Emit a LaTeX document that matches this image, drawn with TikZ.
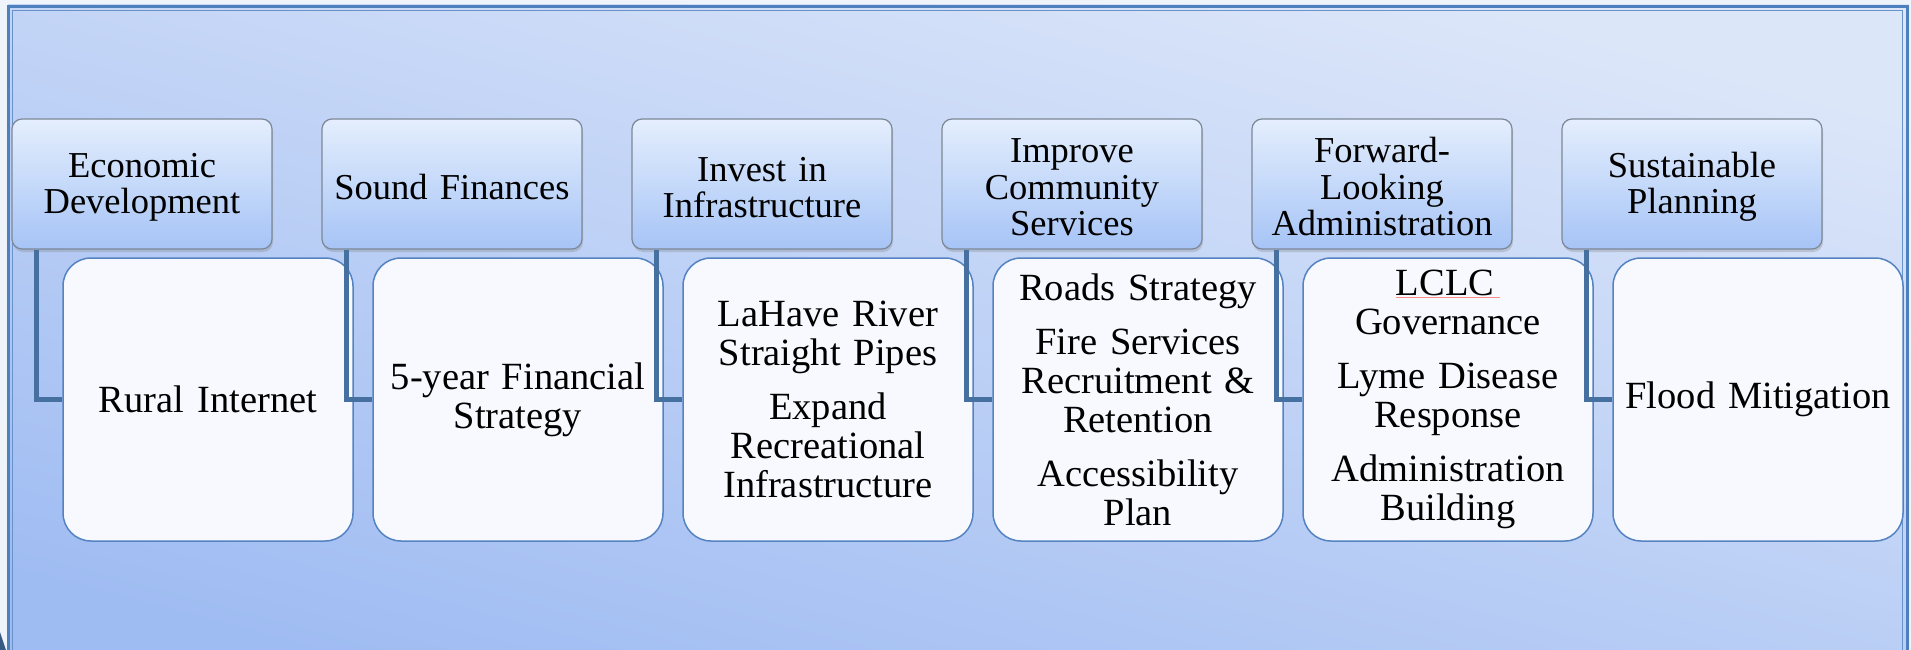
\documentclass[tikz,border=0pt]{standalone}
\usepackage{fontspec}
\setmainfont{Liberation Serif}
\usetikzlibrary{shadows}
\definecolor{pageWhite}{HTML}{EFF3FA}
\definecolor{panelTop}{HTML}{DCE6F9}
\definecolor{panelBot}{HTML}{9EBBF2}
\definecolor{frameBlue}{HTML}{4F80BE}
\definecolor{goalTop}{HTML}{E4EEFD}
\definecolor{goalBot}{HTML}{A6C4F6}
\definecolor{goalEdge}{HTML}{7C8897}
\definecolor{taskFill}{HTML}{F7F9FE}
\definecolor{taskEdge}{HTML}{5583C2}
\definecolor{linkBlue}{HTML}{46709F}
\begin{document}
\begin{tikzpicture}[x=1pt,y=-1pt,
		goal/.style={draw=goalEdge, line width=1.2pt, rounded corners=10pt,
			top color=goalTop, bottom color=goalBot,
			minimum width=260pt, minimum height=130pt, inner sep=0pt,
			text width=252pt, align=center, font=\fontsize{36.5}{36.5}\selectfont,
			execute at begin node={\rule{0pt}{31pt}},
			drop shadow={shadow xshift=1pt, shadow yshift=-3pt, opacity=0.3}},
		task/.style={draw=taskEdge, line width=1.5pt, rounded corners=28pt,
			fill=taskFill, minimum width=290pt, minimum height=283pt, inner sep=0pt,
			text width=286pt, align=center, font=\fontsize{38.5}{39}\selectfont},
		link/.style={draw=linkBlue, line width=4.5pt}]
				\useasboundingbox (0,0) rectangle (1911,650);
				% panel behind the chart
				\fill[pageWhite] (0,0) rectangle (1911,650);
				\shade[top color=panelTop, bottom color=panelBot, shading angle=-15] (8,5) rectangle (1909,700);
				\draw[frameBlue, line width=3pt] (8.5,6.5) rectangle (1907.5,700);
				\draw[frameBlue!85, line width=1pt] (12,10.5) rectangle (1902.5,700);
				\fill[frameBlue!70!black] (0,632) -- (6,650) -- (0,650) -- cycle;
				% goals
				\node[goal] (econ) at (142,184) {Economic\\Development};
				\node[goal] (finance) at (452,184) {Sound Finances};
				\node[goal] (infra) at (762,184) {Invest in\\Infrastructure};
				\node[goal] (community) at (1072,184) {Improve\\Community\\Services};
				\node[goal] (admin) at (1382,184) {Forward-\\Looking\\Administration};
				\node[goal] (planning) at (1692,184) {Sustainable\\Planning};
				% projects
				\node[task] (internet) at (208,399.5) {Rural Internet};
				\node[task] (finstrat) at (518,399.5) {5-year Financial\\Strategy};
				\node[task] (pipes) at (828,399.5) {LaHave River\\Straight Pipes\\[15pt]Expand\\Recreational\\Infrastructure};
				\node[task] (roads) at (1138,399.5) {Roads Strategy\\[15pt]Fire Services\\Recruitment \&\\Retention\\[15pt]Accessibility\\Plan};
				\node[task] (lclc) at (1448,399.5) {\textcolor{red!45}{\underline{\textcolor{black}{LCLC}\hspace{6pt}}}\\Governance\\[15pt]Lyme Disease\\Response\\[15pt]Administration\\Building};
				\node[task] (flood) at (1758,399.5) {Flood Mitigation};
				% links
				\draw[link] ([xshift=25pt]econ.south west) |- (internet.west);
				\draw[link] ([xshift=25pt]finance.south west) |- (finstrat.west);
				\draw[link] ([xshift=25pt]infra.south west) |- (pipes.west);
				\draw[link] ([xshift=25pt]community.south west) |- (roads.west);
				\draw[link] ([xshift=25pt]admin.south west) |- (lclc.west);
				\draw[link] ([xshift=25pt]planning.south west) |- (flood.west);
\end{tikzpicture}
\end{document}
